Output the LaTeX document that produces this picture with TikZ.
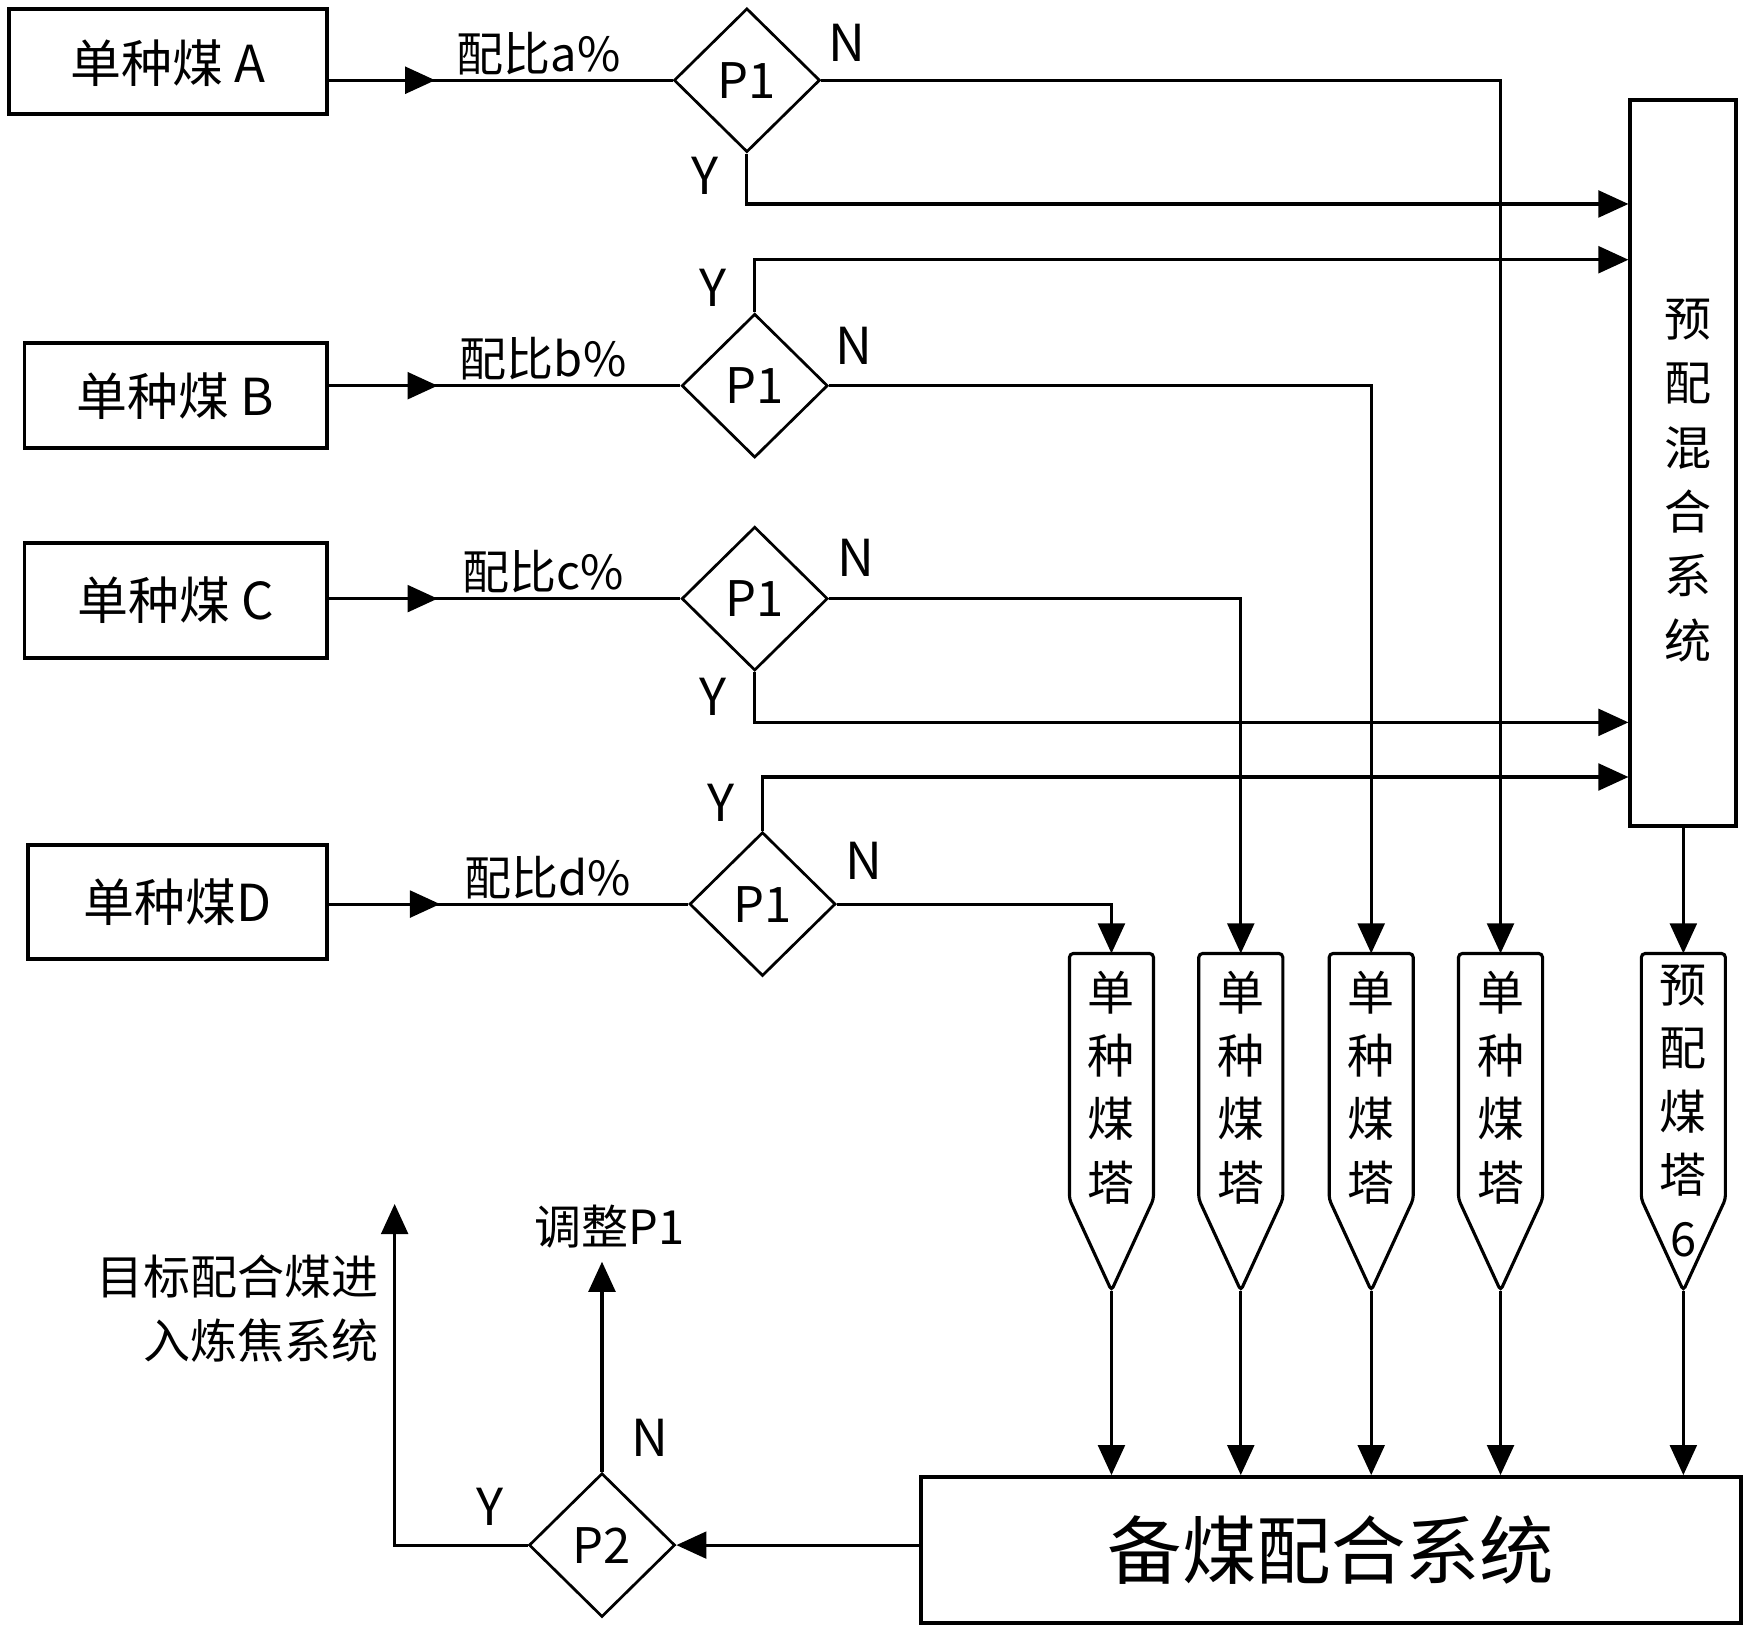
\documentclass[tikz,border=0pt]{standalone}
\usepackage{fontspec}
\setmainfont{Noto Sans CJK SC}
\usetikzlibrary{shapes.geometric,arrows.meta,decorations.markings}

\begin{document}
\begin{tikzpicture}[
  box/.style={draw=cline,fill=cfill,line width=1pt,minimum height=0.94cm,inner sep=0pt,font=\fontsize{13}{15}\selectfont},
  judge/.style={draw=cline,fill=cfill,diamond,line width=0.7pt,minimum width=1.31cm,minimum height=1.29cm,inner sep=0pt,font=\fontsize{12.5}{14}\selectfont},
  yn/.style={font=\fontsize{13}{14}\selectfont},
  ratio/.style={above,inner sep=1pt,pos=0.61,font=\fontsize{12}{14}\selectfont},
  wire/.style={draw=cline,line width=0.8pt},
  arr/.style={wire,-{Triangle[length=0.27cm,width=0.24cm]}},
  midarr/.style={wire,postaction={decorate},decoration={markings,mark=at position 0.31 with {\arrow{Triangle[length=0.27cm,width=0.24cm]}}}},
  tower/.style={minimum width=0.74cm,minimum height=2.19cm,inner sep=0pt},
  towertext/.style={align=center,inner sep=0pt,font=\fontsize{12}{16.2}\selectfont},
  ]
\definecolor{cline}{rgb}{0.0,0.0,0.0}
\definecolor{cfill}{rgb}{1.0,1.0,1.0}
\useasboundingbox (0,0) rectangle (15.68,14.64);
%
\node[box,minimum width=2.85cm,text depth=-0.12cm] (boxA) at (1.505,14.09) {单种煤 A};
\node[box,minimum width=2.71cm] (boxB) at (1.575,11.09) {单种煤 B};
\node[box,minimum width=2.71cm,minimum height=1.03cm] (boxC) at (1.575,9.255) {单种煤 C};
\node[box,minimum width=2.68cm,minimum height=1.02cm] (boxD) at (1.59,6.55) {单种煤D};
%
\node[judge] (dA) at (6.70,13.92) {P1};
\node[judge] (dB) at (6.77,11.18) {P1};
\node[judge] (dC) at (6.77,9.27) {P1};
\node[judge] (dD) at (6.84,6.53) {P1};
\node[judge] (p2) at (5.40,0.78) {P2};
%
\node[yn] (nA) at (7.60,14.26) {N};
\node[yn] (yesA) at (6.32,13.06) {Y};
\node[yn] (nB) at (7.66,11.54) {N};
\node[yn] (yesB) at (6.40,12.06) {Y};
\node[yn] (nC) at (7.68,9.64) {N};
\node[yn] (yesC) at (6.40,8.39) {Y};
\node[yn] (nD) at (7.75,6.92) {N};
\node[yn] (yesD) at (6.47,7.44) {Y};
\node[yn] (nP) at (5.83,1.74) {N};
\node[yn] (yesP) at (4.40,1.12) {Y};
%
\node[box,minimum width=0.95cm,minimum height=6.51cm] (pmix) at (15.10,10.485) {};
\node[towertext,font=\fontsize{12}{16.4}\selectfont] (pmixtxt) at (15.14,10.33) {预\\配\\混\\合\\系\\统};
\node[box,minimum width=7.36cm,minimum height=1.31cm,font=\fontsize{19}{22}\selectfont] (bm) at (11.94,0.735) {备煤配合系统};
%
\foreach \n/\x in {1/9.97,2/11.13,3/12.30,4/13.46,5/15.10} {
  \node[tower] (t\n) at (\x,4.985) {};
  \path (t\n.south) ++(0,-0.82) coordinate (tip\n);
  \draw[wire,rounded corners=1pt] (t\n.north west) -- (t\n.south west) -- (tip\n) -- (t\n.south east) -- (t\n.north east) -- cycle;
  \draw[arr] (tip\n) -- (tip\n |- bm.north);
}
\foreach \n in {1,...,4} \node[towertext,yshift=-0.1cm] (tx\n) at (t\n) {单\\种\\煤\\塔};
\node[towertext,yshift=-0.31cm] (tx5) at (t5) {预\\配\\煤\\塔\\6};
%
\draw[midarr] (boxA.east |- dA.west) -- node[ratio] (rA) {配比a\%} (dA.west);
\draw[midarr] (boxB.east |- dB.west) -- node[ratio] (rB) {配比b\%} (dB.west);
\draw[midarr] (boxC.east |- dC.west) -- node[ratio] (rC) {配比c\%} (dC.west);
\draw[midarr] (boxD.east |- dD.west) -- node[ratio] (rD) {配比d\%} (dD.west);
%
\coordinate (yA) at (6.70,12.81);
\coordinate (yB) at (6.77,12.31);
\coordinate (yC) at (6.77,8.16);
\coordinate (yD) at (6.84,7.67);
\draw[arr] (dA.south) -- (yA) -- (yA -| pmix.west);
\draw[arr] (dB.north) -- (yB) -- (yB -| pmix.west);
\draw[arr] (dC.south) -- (yC) -- (yC -| pmix.west);
\draw[arr] (dD.north) -- (yD) -- (yD -| pmix.west);
%
\draw[arr] (dA.east) -| (t4.north);
\draw[arr] (dB.east) -| (t3.north);
\draw[arr] (dC.east) -| (t2.north);
\draw[arr] (dD.east) -| (t1.north);
\draw[arr] (pmix.south) -- (t5.north);
%
\draw[arr] (bm.west |- p2.east) -- (p2.east);
\coordinate (goal) at (3.54,3.84);
\draw[arr] (p2.west) -| (goal);
\node[anchor=east,align=right,font=\fontsize{12}{16.5}\selectfont] (goaltxt) at (3.52,2.90) {目标配合煤进\\入炼焦系统};
\node[font=\fontsize{12}{14}\selectfont] (adj) at (5.47,3.64) {调整P1};
\draw[arr] (p2.north) -- (p2.north |- adj.south);
%
\end{tikzpicture}
\end{document}
